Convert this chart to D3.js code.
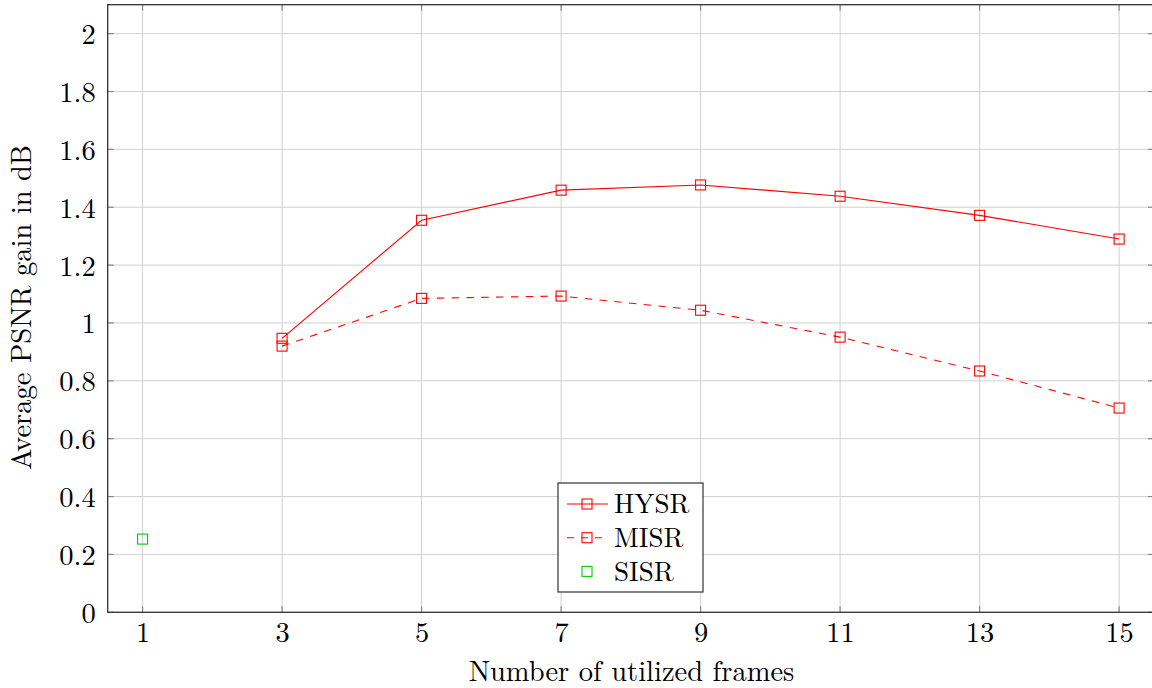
<!DOCTYPE html>
<html><head><meta charset="utf-8">
<script src="https://cdn.jsdelivr.net/npm/d3@7"></script>
<style>body{margin:0;background:#fff}svg{display:block}</style>
</head><body><svg id="c" width="1152" height="688"></svg>
<script>
const frames = [3, 5, 7, 9, 11, 13, 15];
const hysr = [0.947, 1.355, 1.459, 1.477, 1.438, 1.372, 1.290];
const misr = [0.920, 1.085, 1.093, 1.044, 0.951, 0.834, 0.706];
const sisrFrames = [1];
const sisr = [0.253];
const xTicks = [1, 3, 5, 7, 9, 11, 13, 15];
const yTicks = [0, 0.2, 0.4, 0.6, 0.8, 1, 1.2, 1.4, 1.6, 1.8, 2];

const FONT = '"Latin Modern Roman", "CMU Serif", "Liberation Serif", serif';
const FS = "28.5px";
const svg = d3.select("#c");
const L = 107.7, R = 1154, T = 4.7, B = 612.3;
const x = d3.scaleLinear().domain([0.5, 15.5]).range([L, R]);
const y = d3.scaleLinear().domain([0, 2.1]).range([B, T]);

// grid
svg.append("g").selectAll("line").data(xTicks).join("line")
  .attr("x1", d => x(d)).attr("x2", d => x(d)).attr("y1", T).attr("y2", B)
  .attr("stroke", "#d0d0d0").attr("stroke-width", 1);
svg.append("g").selectAll("line").data(yTicks).join("line")
  .attr("x1", L).attr("x2", R).attr("y1", d => y(d)).attr("y2", d => y(d))
  .attr("stroke", "#d0d0d0").attr("stroke-width", 1);

// axes
const fmt = d => d === 0 ? "0" : (Number.isInteger(d) ? String(d) : String(+d.toFixed(1)));
const xAxis = d3.axisBottom(x).tickValues(xTicks).tickSize(0).tickPadding(0).tickFormat(d3.format("d"));
const gx = svg.append("g").attr("transform", `translate(0,${B})`).call(xAxis);
gx.select(".domain").remove();
gx.selectAll("text").attr("y", 30).attr("dy", null)
  .style("font-family", FONT).style("font-size", FS).style("fill", "#000");
const yAxis = d3.axisLeft(y).tickValues(yTicks).tickSize(0).tickPadding(12).tickFormat(fmt);
const gy = svg.append("g").attr("transform", `translate(${L},0)`).call(yAxis);
gy.select(".domain").remove();
gy.selectAll("text").attr("dy", "0.35em")
  .style("font-family", FONT).style("font-size", FS).style("fill", "#000");

// inner ticks
const tk = svg.append("g").attr("stroke", "#888").attr("stroke-width", 1.2);
xTicks.forEach(d => {
  tk.append("line").attr("x1", x(d)).attr("x2", x(d)).attr("y1", B).attr("y2", B - 6);
  tk.append("line").attr("x1", x(d)).attr("x2", x(d)).attr("y1", T).attr("y2", T + 6);
});
yTicks.forEach(d => {
  tk.append("line").attr("x1", L).attr("x2", L + 6).attr("y1", y(d)).attr("y2", y(d));
  tk.append("line").attr("x1", R).attr("x2", R - 6).attr("y1", y(d)).attr("y2", y(d));
});

// frame
svg.append("rect").attr("x", L).attr("y", T).attr("width", R - L).attr("height", B - T)
  .attr("fill", "none").attr("stroke", "#333").attr("stroke-width", 1.3);

const line = d3.line().x(d => x(d[0])).y(d => y(d[1]));
const hData = frames.map((f, i) => [f, hysr[i]]);
const mData = frames.map((f, i) => [f, misr[i]]);
const sData = sisrFrames.map((f, i) => [f, sisr[i]]);

svg.append("path").datum(hData).attr("d", line).attr("fill", "none").attr("stroke", "#f00").attr("stroke-width", 1.1);
svg.append("path").datum(mData).attr("d", line).attr("fill", "none").attr("stroke", "#f00").attr("stroke-width", 1.1).attr("stroke-dasharray", "7.4,7.4");

const S = 10;
function markers(data, color) {
  svg.append("g").selectAll("rect").data(data).join("rect")
    .attr("x", d => x(d[0]) - S / 2).attr("y", d => y(d[1]) - S / 2)
    .attr("width", S).attr("height", S).attr("fill", "none").attr("stroke", color).attr("stroke-width", 1.1);
}
markers(hData, "#f00");
markers(mData, "#f00");
markers(sData, "#0c0");

// labels
svg.append("text").attr("x", 631.5).attr("y", 681).attr("text-anchor", "middle")
  .style("font-family", FONT).style("font-size", FS).text("Number of utilized frames");
svg.append("text").attr("transform", `translate(31,307.5) rotate(-90)`).attr("text-anchor", "middle")
  .style("font-family", FONT).style("font-size", FS).text("Average PSNR gain in dB");

// legend
const lg = svg.append("g").attr("transform", "translate(558,483)");
lg.append("rect").attr("width", 145).attr("height", 109).attr("fill", "#fff").attr("stroke", "#333").attr("stroke-width", 1.2);
const items = [{n: "HYSR", c: "#f00", dash: null, line: true}, {n: "MISR", c: "#f00", dash: "7,7", line: true}, {n: "SISR", c: "#0c0", dash: null, line: false}];
items.forEach((it, i) => {
  const cy = 21 + i * 33.7;
  if (it.line) lg.append("line").attr("x1", 9).attr("x2", 50).attr("y1", cy).attr("y2", cy)
    .attr("stroke", it.c).attr("stroke-width", 1.1).attr("stroke-dasharray", it.dash);
  lg.append("rect").attr("x", 29 - S / 2).attr("y", cy - S / 2).attr("width", S).attr("height", S)
    .attr("fill", "none").attr("stroke", it.c).attr("stroke-width", 1.1);
  lg.append("text").attr("x", 56).attr("y", cy).attr("dy", "0.35em")
    .style("font-family", FONT).style("font-size", "27px").text(it.n);
});
</script></body></html>
